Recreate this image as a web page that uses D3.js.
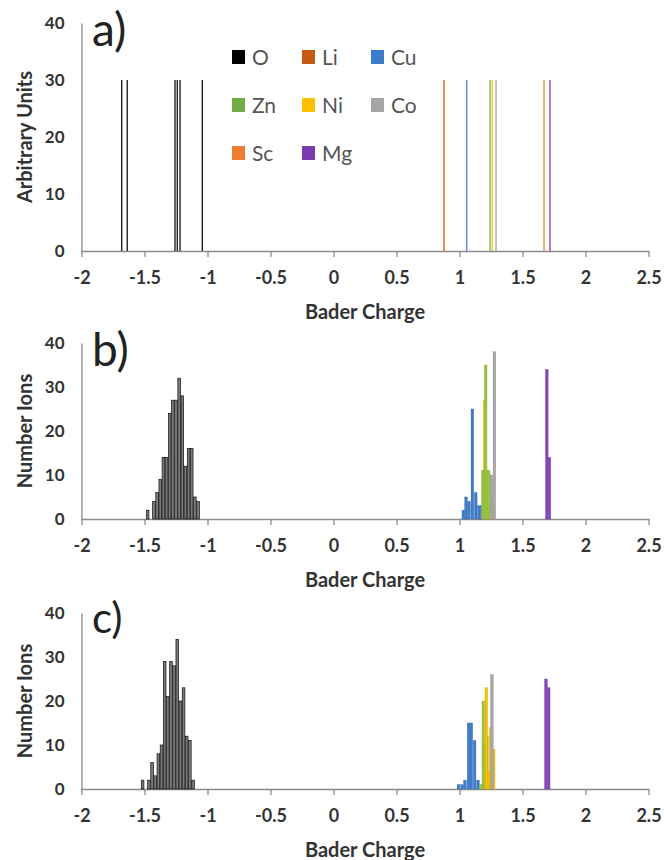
<!DOCTYPE html>
<html><head><meta charset="utf-8">
<script src="https://cdn.jsdelivr.net/npm/d3@7"></script>
<style>
body{margin:0;background:#fff;}
text{font-family:Lato,"Open Sans",sans-serif;}
</style></head>
<body><svg id="c" width="664" height="860"></svg>
<script>
// ---------- data ----------
const xTicks = [-2, -1.5, -1, -0.5, 0, 0.5, 1, 1.5, 2, 2.5];
const yTicks = [0, 10, 20, 30, 40];
const elements = ["O", "Li", "Cu", "Zn", "Ni", "Co", "Sc", "Mg"];
const elemColors = ["#000000", "#C55A11", "#3D7BCB", "#70AD47", "#FFC000", "#A5A5A5", "#ED7D31", "#7A3BAE"];
const barColors  = ["#7a7a7a", "#C55A11", "#3D7BCB", "#9CC744", "#FFC000", "#A8A8A8", "#ED7D31", "#8646C0"];

// panel a: reference charges (line height in arbitrary units)
const aHeight = 30;
const aO  = [-1.681, -1.637, -1.258, -1.240, -1.218, -1.041];
const aLi = [0.877];
const aCu = [1.057];
const aZn = [1.242];
const aNi = [1.260];
const aCo = [1.290];
const aSc = [1.671];
const aMg = [1.718];

// panel b
const bOCharge = [-1.475,-1.45,-1.425,-1.4,-1.375,-1.35,-1.325,-1.3,-1.275,-1.25,-1.225,-1.2,-1.175,-1.15,-1.125,-1.1,-1.075];
const bOCount  = [2,0,4,6,9,14,14,24,27,27,32,28,12,16,16,5,4];
const bCuCharge = [1.030,1.052,1.075,1.102,1.129,1.155,1.179];
const bCuCount  = [2,5,4,25,6,3,3];
const bNiCharge = [1.200,1.238,1.252,1.266];
const bNiCount  = [27,8,6,3];
const bZnCharge = [1.185,1.197,1.208,1.220,1.232,1.244];
const bZnCount  = [11,11,35,11,11,2];
const bCoCharge = [1.253,1.277];
const bCoCount  = [10,38];
const bMgCharge = [1.693,1.714];
const bMgCount  = [34,14];

// panel c
const cOCharge = [-1.515,-1.465,-1.44,-1.415,-1.39,-1.365,-1.34,-1.315,-1.29,-1.265,-1.24,-1.215,-1.19,-1.165,-1.14,-1.115];
const cOCount  = [2,2,6,3,8,10,29,21,29,28,34,20,23,12,11,2];
const cCuCharge = [0.992,1.020,1.044,1.072,1.094,1.120,1.147];
const cCuCount  = [1,1,2,15,15,11,2];
const cZnCharge = [1.170,1.189,1.203,1.218,1.234];
const cZnCount  = [1,20,10,12,4];
const cNiCharge = [1.213,1.230,1.248,1.271];
const cNiCount  = [23,4,14,9];
const cCoCharge = [1.257];
const cCoCount  = [26];
const cMgCharge = [1.686,1.708];
const cMgCount  = [25,23];

// ---------- drawing ----------
const svg = d3.select("#c");
const x = d3.scaleLinear().domain([-2, 2.5]).range([81.5, 648.5]);
const textCol = "#333";
const axisCol = "#8a8a8a";

function frame(top, bottom, yTitle, letter, letterSize, letterBase) {
  const y = d3.scaleLinear().domain([0, 40]).range([bottom, top]);
  const g = svg.append("g");
  // y axis
  const ya = g.append("g").attr("transform", `translate(${x.range()[0]},0)`)
    .call(d3.axisLeft(y).tickValues(yTicks).tickSize(0).tickPadding(17).tickFormat(d => d));
  ya.select(".domain").attr("stroke", axisCol).attr("stroke-width", 1.3);
  ya.selectAll("text").attr("font-size", 17).attr("font-weight", "bold").attr("fill", textCol);
  // x axis
  const xa = g.append("g").attr("transform", `translate(0,${bottom})`)
    .call(d3.axisBottom(x).tickValues(xTicks).tickSize(6).tickSizeOuter(0).tickPadding(14).tickFormat(d => String(d)));
  xa.select(".domain").attr("stroke", axisCol).attr("stroke-width", 1.6);
  xa.selectAll(".tick line").attr("stroke", axisCol).attr("stroke-width", 1.3);
  xa.selectAll("text").attr("font-size", 18).attr("font-weight", "bold").attr("fill", textCol);
  // titles
  g.append("text").attr("x", (x.range()[0] + x.range()[1]) / 2).attr("y", bottom + 68)
    .attr("text-anchor", "middle").attr("font-size", 20).attr("font-weight", "bold").attr("fill", textCol).text("Bader Charge");
  g.append("text").attr("transform", `translate(32,${(top + bottom) / 2}) rotate(-90)`)
    .attr("text-anchor", "middle").attr("font-size", 20).attr("font-weight", "bold").attr("fill", textCol).text(yTitle);
  g.append("text").attr("x", 92).attr("y", top + letterBase).attr("font-size", letterSize).attr("fill", "#222").text(letter);
  return {g, y};
}

// Panel a
(function () {
  const {g, y} = frame(23, 251, "Arbitrary Units", "a)", 46, 23);
  const sets = [aO, aLi, aCu, aZn, aNi, aCo, aSc, aMg];
  sets.forEach((arr, i) => {
    g.selectAll(null).data(arr).enter().append("line")
      .attr("x1", d => x(d)).attr("x2", d => x(d))
      .attr("y1", y(0)).attr("y2", y(aHeight))
      .attr("stroke", i === 0 ? "#111" : elemColors[i])
      .attr("stroke-opacity", i === 0 ? 1 : 0.8)
      .attr("stroke-width", i === 0 ? 1.3 : 1.6);
  });
  // legend
  const cols = [232, 302, 371];
  const rows = [57, 105, 153];
  elements.forEach((e, i) => {
    const cx = cols[i % 3], cy = rows[Math.floor(i / 3)];
    g.append("rect").attr("x", cx).attr("y", cy - 7).attr("width", 13).attr("height", 14).attr("fill", elemColors[i]);
    g.append("text").attr("x", cx + 20).attr("y", cy + 8).attr("font-size", 21).attr("fill", "#555").text(e);
  });
})();

function histPanel(top, bottom, letter, letterSize, letterBase, series) {
  const {g, y} = frame(top, bottom, "Number Ions", letter, letterSize, letterBase);
  series.forEach(s => {
    const data = s.charge.map((c, k) => ({c, n: s.count[k]})).filter(d => d.n > 0);
    g.selectAll(null).data(data).enter().append("rect")
      .attr("x", d => x(d.c) - 1.3).attr("width", 2.6)
      .attr("y", d => y(d.n)).attr("height", d => y(0) - y(d.n))
      .attr("fill", barColors[s.idx])
      .attr("stroke", s.idx === 0 ? "#111" : d3.color(barColors[s.idx]).darker(0.4))
      .attr("stroke-width", s.idx === 0 ? 0.7 : 0.4);
  });
}

histPanel(343, 519, "b)", 46, 23, [
  {idx: 0, charge: bOCharge, count: bOCount},
  {idx: 2, charge: bCuCharge, count: bCuCount},
  {idx: 4, charge: bNiCharge, count: bNiCount},
  {idx: 3, charge: bZnCharge, count: bZnCount},
  {idx: 5, charge: bCoCharge, count: bCoCount},
  {idx: 7, charge: bMgCharge, count: bMgCount}
]);

histPanel(613, 789, "c)", 42, 20, [
  {idx: 0, charge: cOCharge, count: cOCount},
  {idx: 2, charge: cCuCharge, count: cCuCount},
  {idx: 3, charge: cZnCharge, count: cZnCount},
  {idx: 4, charge: cNiCharge, count: cNiCount},
  {idx: 5, charge: cCoCharge, count: cCoCount},
  {idx: 7, charge: cMgCharge, count: cMgCount}
]);
</script>
</body></html>
